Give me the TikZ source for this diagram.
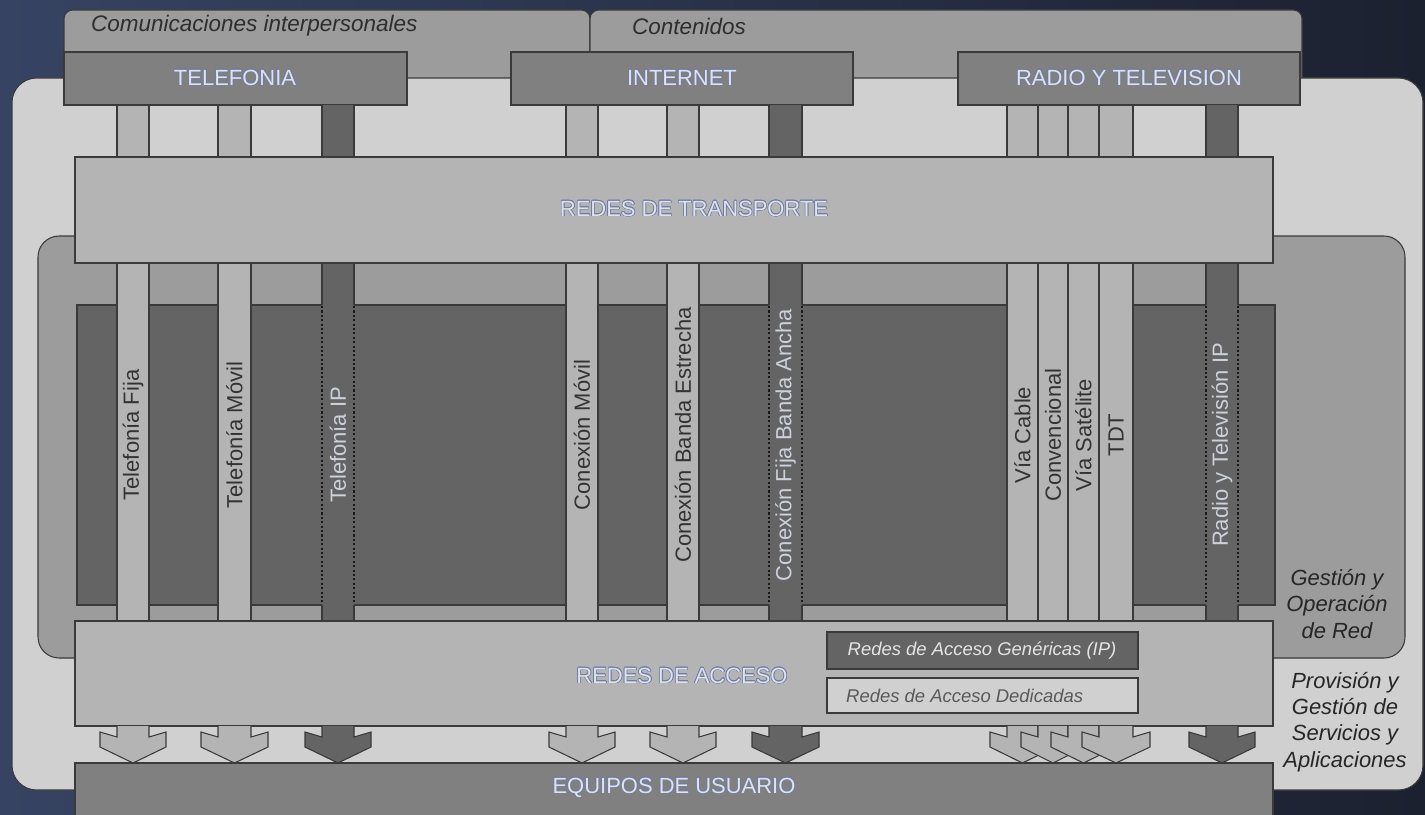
\documentclass[tikz,border=0pt]{standalone}
\usepackage{fontspec}
\setmainfont{Liberation Sans}
\usepackage{contour}
\contourlength{0.35pt}
\usepackage{tikz}
\usetikzlibrary{positioning}

\definecolor{bgnavy}{RGB}{54,67,98}
\definecolor{bgdeep}{RGB}{28,33,48}
\definecolor{tabgray}{RGB}{156,156,156}
\definecolor{panelgray}{RGB}{208,208,208}
\definecolor{midgray}{RGB}{128,128,128}
\definecolor{lightgray}{RGB}{180,180,180}
\definecolor{darkgray}{RGB}{100,100,100}
\definecolor{edgegray}{RGB}{58,58,58}
\definecolor{headlight}{RGB}{222,226,236}
\definecolor{headedge}{RGB}{112,124,164}
\definecolor{paletext}{RGB}{205,209,220}

\newcommand{\hdtext}[1]{\contour{headedge}{#1}}

\tikzset{
  box/.style={draw=edgegray, line width=0.6pt},
  tab/.style={box, fill=tabgray, rounded corners=5pt},
  headtxt/.style={font=\fontsize{12.5}{15}\selectfont, text=headlight},
  tabtxt/.style={font=\fontsize{12.8}{15}\selectfont\itshape, text=black!82, anchor=west},
  coltxt/.style={font=\fontsize{12.5}{15}\selectfont, rotate=90},
  sidetxt/.style={font=\fontsize{12.5}{15}\selectfont\itshape, align=center, text=black!85},
  acctxt/.style={font=\fontsize{10.5}{12}\selectfont\itshape},
  ipedge/.style={draw=black!90, line width=1.1pt, dash pattern=on 1.2pt off 1.3pt}
}

\begin{document}
\begin{tikzpicture}[x=0.02cm, y=-0.02cm]
  \useasboundingbox (0,0) rectangle (1425,814);
  % background
  \shade[left color=bgnavy, right color=bgdeep] (0,0) rectangle (1425,814);

  % --- Tabs on top ---
  \draw[tab] (64,10) rectangle (590,100);
  \draw[tab] (590,10) rectangle (1302,100);
  \node[tabtxt] (interp) at (85,26) {Comunicaciones interpersonales};
  \node[tabtxt] (conten) at (626,26) {Contenidos};

  % --- Provision panel (light) ---
  \draw[box, fill=panelgray, rounded corners=14pt] (12,78) rectangle (1423,790);

  % --- Service boxes ---
  \draw[box, fill=midgray] (64,52) rectangle (407,105);
  \draw[box, fill=midgray] (511,52) rectangle (853,105);
  \draw[box, fill=midgray] (958,52) rectangle (1300,105);
  \node[headtxt] (telefonia) at (235,78) {\hdtext{TELEFONIA}};
  \node[headtxt] (internet) at (682,78) {\hdtext{INTERNET}};
  \node[headtxt] (radiotv) at (1129,78) {\hdtext{RADIO Y TELEVISION}};

  % --- Network management panel ---
  \draw[box, fill=tabgray, rounded corners=12pt] (38,236) rectangle (1405,658);
  \draw[box, fill=darkgray] (77,305) rectangle (1275,605);

  % --- Light columns ---
  \foreach \xl/\xr/\nm/\tx in {117/149/tfija/Telefonía Fija, 218/251/tmovil/Telefonía Móvil,
      566/598/cmovil/Conexión Móvil, 667/699/cbe/Conexión Banda Estrecha,
      1007/1038/vcable/Vía Cable, 1038/1068/conv/Convencional,
      1068/1099/vsat/Vía Satélite, 1099/1133/tdt/TDT}{
    \draw[box, fill=lightgray] (\xl,105) rectangle (\xr,621);
    \node[coltxt, text=black!80] (\nm) at ({(\xl+\xr)/2},435) {\tx};
  }

  % --- Dark columns (IP) ---
  \foreach \xl/\xr/\nm/\tx in {322/354/tip/Telefonía IP, 769/802/cfba/Conexión Fija Banda Ancha,
      1206/1238/rtvip/Radio y Televisión IP}{
    \fill[darkgray] (\xl,105) rectangle (\xr,621);
    \draw[box] (\xl,105) -- (\xl,305) (\xr,105) -- (\xr,305);
    \draw[box] (\xl,605) -- (\xl,621) (\xr,605) -- (\xr,621);
    \draw[ipedge] (\xl,306) -- (\xl,604) (\xr,306) -- (\xr,604);
    \node[coltxt, text=paletext] (\nm) at ({(\xl+\xr)/2},445) {\tx};
  }

  % --- Transport and access networks ---
  \draw[box, fill=lightgray] (75,157) rectangle (1273,263);
  \node[headtxt] (transporte) at (694,209) {\hdtext{REDES DE TRANSPORTE}};
  \draw[box, fill=lightgray] (75,621) rectangle (1273,726);
  \node[headtxt] (acceso) at (682,676) {\hdtext{REDES DE ACCESO}};
  \draw[box, fill=darkgray] (827,632) rectangle (1138,669);
  \node[acctxt, text=black!10] (genericas) at (982,651) {Redes de Acceso Genéricas (IP)};
  \draw[box, fill=panelgray] (827,678) rectangle (1138,713);
  \node[acctxt, text=black!65, anchor=west] (dedicadas) at (840,696) {Redes de Acceso Dedicadas};

  % --- Arrows down to user equipment ---
  \foreach \xl/\xr/\cl in {117/149/lightgray, 218/251/lightgray, 322/354/darkgray,
      566/598/lightgray, 667/699/lightgray, 769/802/darkgray,
      1007/1038/lightgray, 1038/1068/lightgray, 1068/1099/lightgray, 1099/1133/lightgray,
      1206/1238/darkgray}{
    \draw[box, fill=\cl] (\xl,726) -- (\xl,737) -- (\xl-17,732) -- (\xl-17,747)
      -- ({(\xl+\xr)/2},763) -- (\xr+17,747) -- (\xr+17,732) -- (\xr,737) -- (\xr,726);
  }

  % --- User equipment ---
  \draw[box, fill=midgray] (75,763) rectangle (1273,816);
  \node[headtxt] (equipos) at (674,788) {\hdtext{EQUIPOS DE USUARIO}};

  % --- Side labels ---
  \node[sidetxt] (gestion) at (1337,604) {Gestión y\\Operación\\de Red};
  \node[sidetxt] (provision) at (1345,722) {Provisión y\\Gestión de\\Servicios y\\Aplicaciones};
\end{tikzpicture}
\end{document}
